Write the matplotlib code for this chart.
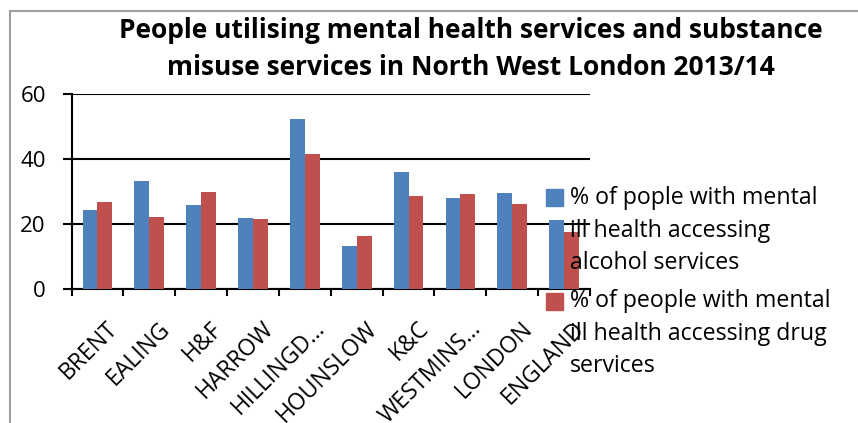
import matplotlib.pyplot as plt
from matplotlib.patches import Rectangle
from matplotlib.lines import Line2D
import numpy as np

plt.rcParams['font.family'] = ['Open Sans', 'DejaVu Sans']

# Borough / comparator values, % of people with mental ill health
areas = ['BRENT', 'EALING', 'H&F', 'HARROW', 'HILLINGD…', 'HOUNSLOW',
         'K&C', 'WESTMINS…', 'LONDON', 'ENGLAND']
alcohol = [24.2, 33.2, 25.7, 21.7, 52.3, 13.1, 35.9, 27.9, 29.4, 21.1]
drugs = [26.7, 22.3, 29.7, 21.4, 41.5, 16.2, 28.5, 29.1, 26.3, 17.4]

title_lines = ['People utilising mental health services and substance',
               'misuse services in North West London 2013/14']
alcohol_label = ['% of pople with mental', 'ill health accessing', 'alcohol services']
drugs_label = ['% of people with mental', 'ill health accessing drug', 'services']

BLUE = '#4F81BD'
RED = '#C0504D'
W, H = 858, 423

fig = plt.figure(figsize=(W / 100, H / 100), dpi=100)
ax = fig.add_axes([71.5 / W, 1 - 289 / H, (590 - 71.5) / W, (289 - 94) / H])

x = np.arange(len(areas))
bw = 0.286
ax.bar(x - bw / 2, alcohol, bw, color=BLUE, zorder=3)
ax.bar(x + bw / 2, drugs, bw, color=RED, zorder=3)

ax.set_xlim(-0.5, len(areas) - 0.5)
ax.set_ylim(0, 60)
ax.set_yticks([0, 20, 40, 60])
ax.yaxis.grid(True, color='black', linewidth=1.5, zorder=1)
for s in ['top', 'right']:
    ax.spines[s].set_visible(False)
for s in ['left', 'bottom']:
    ax.spines[s].set_linewidth(1.5)
ax.tick_params(axis='y', direction='out', length=6.5, width=1.5, labelsize=16, pad=12)

# category boundary ticks on the x axis, labels hung below each group
ax.set_xticks(np.arange(len(areas) + 1) - 0.5)
ax.set_xticklabels([])
ax.tick_params(axis='x', which='major', direction='out', length=5, width=1.5)
ax.set_xticks(x + 0.165, minor=True)
ax.set_xticklabels(areas, minor=True, rotation=45, ha='right',
                   rotation_mode='anchor', fontsize=16.5)
ax.tick_params(axis='x', which='minor', length=0, pad=20)

for line, yb in zip(title_lines, [38, 75]):
    fig.text(471 / W, 1 - yb / H, line, ha='center', va='baseline',
             fontsize=19, fontweight='bold')

# legend drawn at figure level, overlapping the plot area
for label, color, top, base in [(alcohol_label, BLUE, 189, 204),
                                (drugs_label, RED, 293, 307)]:
    fig.patches.append(Rectangle((546 / W, 1 - (top + 17) / H), 17 / W, 17 / H,
                                 transform=fig.transFigure, color=color, zorder=5))
    for i, line in enumerate(label):
        fig.text(570 / W, 1 - (base + i * 32.6) / H, line, ha='left', va='baseline',
                 fontsize=16.7, zorder=6)

# chart area border
fig.add_artist(Line2D([10 / W, 1], [1 - 11 / H] * 2, color='#a0a0a0', lw=1.5,
                      transform=fig.transFigure))
fig.add_artist(Line2D([10 / W] * 2, [0, 1 - 11 / H], color='#a0a0a0', lw=1.5,
                      transform=fig.transFigure))

fig.savefig('out.png', dpi=100)
